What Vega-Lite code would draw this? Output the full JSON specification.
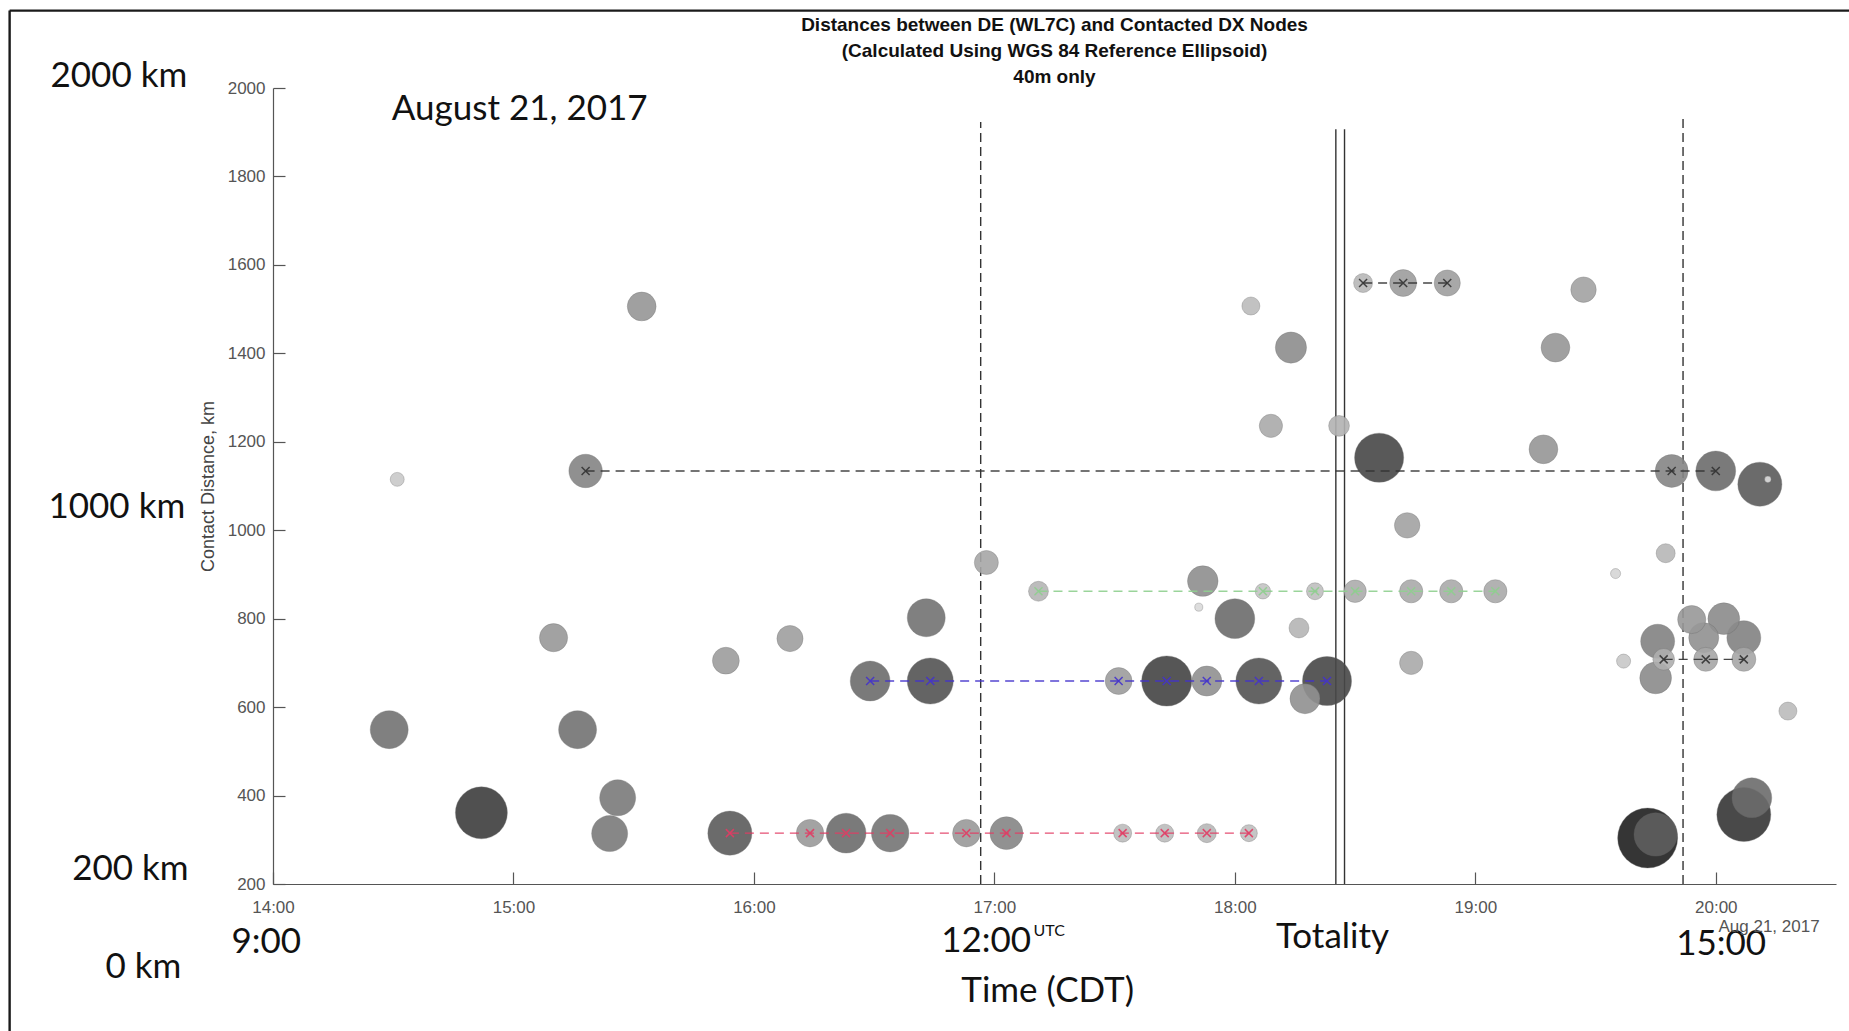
{
  "$schema": "https://vega.github.io/schema/vega-lite/v6.json",
  "autosize": {"type": "none"},
  "padding": {"left": 273, "top": 88, "right": 13, "bottom": 147},
  "width": 1563,
  "height": 796,
  "background": "white",
  "config": {
    "view": {"stroke": null},
    "axis": {
      "grid": false,
      "domainColor": "#555",
      "domainWidth": 1.2,
      "tickColor": "#555",
      "tickWidth": 1.2,
      "labelColor": "#555",
      "labelFont": "Liberation Sans",
      "labelFontSize": 17
    }
  },
  "title": {
    "text": ["Distances between DE (WL7C) and Contacted DX Nodes", "(Calculated Using WGS 84 Reference Ellipsoid)", "40m only"],
    "font": "Liberation Sans",
    "fontSize": 19,
    "fontWeight": "bold",
    "color": "#111",
    "lineHeight": 26,
    "anchor": "middle",
    "frame": "group",
    "offset": 2,
    "dy": 80
  },
  "datasets": {
    "contacts": [
      {"t": "2017-08-21T14:31:00", "km": 1115, "spots": 5.4, "series": null},
      {"t": "2017-08-21T15:18:00", "km": 1134, "spots": 31, "series": "F"},
      {"t": "2017-08-21T15:32:00", "km": 1506, "spots": 23, "series": null},
      {"t": "2017-08-21T14:29:00", "km": 549, "spots": 40, "series": null},
      {"t": "2017-08-21T14:52:00", "km": 361, "spots": 75, "series": null},
      {"t": "2017-08-21T15:10:00", "km": 757, "spots": 22, "series": null},
      {"t": "2017-08-21T15:16:00", "km": 549, "spots": 40, "series": null},
      {"t": "2017-08-21T15:26:00", "km": 395, "spots": 36, "series": null},
      {"t": "2017-08-21T15:24:00", "km": 314, "spots": 36, "series": null},
      {"t": "2017-08-21T15:53:00", "km": 705, "spots": 20, "series": null},
      {"t": "2017-08-21T16:09:00", "km": 755, "spots": 19, "series": null},
      {"t": "2017-08-21T16:43:00", "km": 802, "spots": 40, "series": null},
      {"t": "2017-08-21T16:58:00", "km": 927, "spots": 16, "series": null},
      {"t": "2017-08-21T15:54:00", "km": 315, "spots": 54, "series": "A"},
      {"t": "2017-08-21T16:14:00", "km": 315, "spots": 21, "series": "A"},
      {"t": "2017-08-21T16:23:00", "km": 315, "spots": 44, "series": "A"},
      {"t": "2017-08-21T16:34:00", "km": 315, "spots": 39, "series": "A"},
      {"t": "2017-08-21T16:53:00", "km": 315, "spots": 21, "series": "A"},
      {"t": "2017-08-21T17:03:00", "km": 315, "spots": 30, "series": "A"},
      {"t": "2017-08-21T17:32:00", "km": 315, "spots": 9, "series": "A"},
      {"t": "2017-08-21T17:42:30", "km": 315, "spots": 9, "series": "A"},
      {"t": "2017-08-21T17:53:00", "km": 315, "spots": 10, "series": "A"},
      {"t": "2017-08-21T18:03:30", "km": 315, "spots": 8, "series": "A"},
      {"t": "2017-08-21T16:29:00", "km": 659, "spots": 44, "series": "B"},
      {"t": "2017-08-21T16:44:00", "km": 659, "spots": 59, "series": "B"},
      {"t": "2017-08-21T17:31:00", "km": 659, "spots": 20, "series": "B"},
      {"t": "2017-08-21T17:43:00", "km": 659, "spots": 70, "series": "B"},
      {"t": "2017-08-21T17:53:00", "km": 659, "spots": 25, "series": "B"},
      {"t": "2017-08-21T18:06:00", "km": 659, "spots": 59, "series": "B"},
      {"t": "2017-08-21T18:23:00", "km": 659, "spots": 67, "series": "B"},
      {"t": "2017-08-21T18:17:30", "km": 619, "spots": 25, "series": null},
      {"t": "2017-08-21T17:11:00", "km": 862, "spots": 11, "series": "C"},
      {"t": "2017-08-21T18:07:00", "km": 862, "spots": 6.6, "series": "C"},
      {"t": "2017-08-21T18:20:00", "km": 862, "spots": 8, "series": "C"},
      {"t": "2017-08-21T18:30:00", "km": 862, "spots": 14, "series": "C"},
      {"t": "2017-08-21T18:44:00", "km": 862, "spots": 15, "series": "C"},
      {"t": "2017-08-21T18:54:00", "km": 862, "spots": 15, "series": "C"},
      {"t": "2017-08-21T19:05:00", "km": 862, "spots": 15, "series": "C"},
      {"t": "2017-08-21T17:52:00", "km": 885, "spots": 26, "series": null},
      {"t": "2017-08-21T17:51:00", "km": 826, "spots": 1.8, "series": null},
      {"t": "2017-08-21T18:00:00", "km": 800, "spots": 44, "series": null},
      {"t": "2017-08-21T18:16:00", "km": 779, "spots": 11, "series": null},
      {"t": "2017-08-21T18:04:00", "km": 1507, "spots": 9, "series": null},
      {"t": "2017-08-21T18:14:00", "km": 1413, "spots": 27, "series": null},
      {"t": "2017-08-21T18:09:00", "km": 1236, "spots": 15, "series": null},
      {"t": "2017-08-21T18:26:00", "km": 1236, "spots": 12, "series": null},
      {"t": "2017-08-21T18:36:00", "km": 1164, "spots": 67, "series": null},
      {"t": "2017-08-21T18:43:00", "km": 1011, "spots": 18, "series": null},
      {"t": "2017-08-21T18:44:00", "km": 700, "spots": 15, "series": null},
      {"t": "2017-08-21T18:32:00", "km": 1559, "spots": 10, "series": "D"},
      {"t": "2017-08-21T18:42:00", "km": 1559, "spots": 20, "series": "D"},
      {"t": "2017-08-21T18:53:00", "km": 1559, "spots": 19, "series": "D"},
      {"t": "2017-08-21T19:27:00", "km": 1544, "spots": 18, "series": null},
      {"t": "2017-08-21T19:20:00", "km": 1413, "spots": 23, "series": null},
      {"t": "2017-08-21T19:17:00", "km": 1183, "spots": 23, "series": null},
      {"t": "2017-08-21T19:35:00", "km": 902, "spots": 2.8, "series": null},
      {"t": "2017-08-21T19:47:30", "km": 948, "spots": 10, "series": null},
      {"t": "2017-08-21T19:37:00", "km": 704, "spots": 5.5, "series": null},
      {"t": "2017-08-21T19:49:00", "km": 1134, "spots": 30, "series": "F"},
      {"t": "2017-08-21T20:00:00", "km": 1134, "spots": 44, "series": "F"},
      {"t": "2017-08-21T20:11:00", "km": 1104, "spots": 54, "series": null},
      {"t": "2017-08-21T20:13:00", "km": 1115, "spots": 1.2, "series": null},
      {"t": "2017-08-21T19:54:00", "km": 798, "spots": 22, "series": null},
      {"t": "2017-08-21T20:02:00", "km": 800, "spots": 28, "series": null},
      {"t": "2017-08-21T20:07:00", "km": 757, "spots": 32, "series": null},
      {"t": "2017-08-21T19:57:00", "km": 757, "spots": 25, "series": null},
      {"t": "2017-08-21T19:45:30", "km": 749, "spots": 32, "series": null},
      {"t": "2017-08-21T19:45:00", "km": 666, "spots": 28, "series": null},
      {"t": "2017-08-21T19:47:00", "km": 708, "spots": 13, "series": "E"},
      {"t": "2017-08-21T19:57:30", "km": 708, "spots": 16, "series": "E"},
      {"t": "2017-08-21T20:07:00", "km": 708, "spots": 16, "series": "E"},
      {"t": "2017-08-21T20:18:00", "km": 591, "spots": 9, "series": null},
      {"t": "2017-08-21T19:43:00", "km": 304, "spots": 100, "series": null},
      {"t": "2017-08-21T19:45:00", "km": 312, "spots": 52, "series": null},
      {"t": "2017-08-21T20:07:00", "km": 357, "spots": 81, "series": null},
      {"t": "2017-08-21T20:09:00", "km": 395, "spots": 44, "series": null}
    ],
    "events": [
      {"event": "12:00 CDT", "kind": "clock", "t": "2017-08-21T16:56:35", "km": 200, "top": 1923},
      {"event": "15:00 CDT", "kind": "clock", "t": "2017-08-21T19:51:50", "km": 200, "top": 1937},
      {"event": "Totality start", "kind": "totality", "t": "2017-08-21T18:25:12", "km": 200, "top": 1907},
      {"event": "Totality end", "kind": "totality", "t": "2017-08-21T18:27:22", "km": 200, "top": 1907}
    ],
    "notes": [
      {"label": "2000 km", "kind": "big", "t": "2017-08-21T13:21:32", "km": 2027},
      {"label": "1000 km", "kind": "big", "t": "2017-08-21T13:21:02", "km": 1053},
      {"label": "200 km", "kind": "big", "t": "2017-08-21T13:24:25", "km": 235},
      {"label": "0 km", "kind": "big", "t": "2017-08-21T13:27:40", "km": 12},
      {"label": "9:00", "kind": "big", "t": "2017-08-21T13:58:20", "km": 69},
      {"label": "12:00", "kind": "big", "t": "2017-08-21T16:57:56", "km": 72},
      {"label": "Totality", "kind": "big", "t": "2017-08-21T18:24:22", "km": 81},
      {"label": "Time (CDT)", "kind": "big", "t": "2017-08-21T17:13:18", "km": -41},
      {"label": "15:00", "kind": "big", "t": "2017-08-21T20:01:21", "km": 65},
      {"label": "August 21, 2017", "kind": "big", "t": "2017-08-21T15:01:34", "km": 1953},
      {"label": "UTC", "kind": "sup", "t": "2017-08-21T17:13:40", "km": 93},
      {"label": "Aug 21, 2017", "kind": "axis", "t": "2017-08-21T20:13:18", "km": 103}
    ],
    "frame": [
      {"edge": "left", "t": "2017-08-21T12:54:17", "t2": "2017-08-21T12:54:17", "km": -400, "top": 2175},
      {"edge": "top", "t": "2017-08-21T12:54:17", "t2": "2017-08-21T21:30:00", "km": 2175, "top": 2175}
    ]
  },
  "layer": [
    {
      "data": {"name": "frame"},
      "transform": [{"filter": "datum.edge === 'left'"}],
      "mark": {"type": "rule", "stroke": "#1a1a1a", "strokeWidth": 2.4},
      "encoding": {
        "x": {"field": "t", "type": "temporal"},
        "y": {"field": "km", "type": "quantitative"},
        "y2": {"field": "top"}
      }
    },
    {
      "data": {"name": "frame"},
      "transform": [{"filter": "datum.edge === 'top'"}],
      "mark": {"type": "rule", "stroke": "#1a1a1a", "strokeWidth": 2.2},
      "encoding": {
        "x": {"field": "t", "type": "temporal"},
        "x2": {"field": "t2"},
        "y": {"field": "km", "type": "quantitative"}
      }
    },
    {
      "data": {"name": "events"},
      "transform": [{"filter": "datum.kind === 'clock'"}],
      "mark": {"type": "rule", "stroke": "#333", "strokeWidth": 1.4, "strokeDash": [9, 5]},
      "encoding": {
        "x": {"field": "t", "type": "temporal"},
        "y": {"field": "km", "type": "quantitative"},
        "y2": {"field": "top"}
      }
    },
    {
      "data": {"name": "events"},
      "transform": [{"filter": "datum.kind === 'totality'"}],
      "mark": {"type": "rule", "stroke": "#333", "strokeWidth": 1.4},
      "encoding": {
        "x": {"field": "t", "type": "temporal"},
        "y": {"field": "km", "type": "quantitative"},
        "y2": {"field": "top"}
      }
    },
    {
      "data": {"name": "contacts"},
      "mark": {"type": "circle", "opacity": 0.9, "stroke": "#666", "strokeWidth": 1, "strokeOpacity": 0.35},
      "encoding": {
        "x": {
          "field": "t", "type": "temporal",
          "scale": {"domain": [{"year": 2017, "month": 8, "date": 21, "hours": 14}, {"year": 2017, "month": 8, "date": 21, "hours": 20, "minutes": 30}], "nice": false},
          "axis": {
            "title": null,
            "format": "%H:%M",
            "values": [
              {"year": 2017, "month": 8, "date": 21, "hours": 14},
              {"year": 2017, "month": 8, "date": 21, "hours": 15},
              {"year": 2017, "month": 8, "date": 21, "hours": 16},
              {"year": 2017, "month": 8, "date": 21, "hours": 17},
              {"year": 2017, "month": 8, "date": 21, "hours": 18},
              {"year": 2017, "month": 8, "date": 21, "hours": 19},
              {"year": 2017, "month": 8, "date": 21, "hours": 20}
            ],
            "tickSize": -12,
            "labelPadding": 27,
            "labelBaseline": "top",
            "labelAlign": "center"
          }
        },
        "y": {
          "field": "km", "type": "quantitative",
          "scale": {"domain": [200, 2000], "nice": false, "zero": false},
          "axis": {
            "values": [200, 400, 600, 800, 1000, 1200, 1400, 1600, 1800, 2000],
            "format": "d",
            "tickSize": -12,
            "labelPadding": 20,
            "title": "Contact Distance, km",
            "titleFont": "Liberation Sans",
            "titleFontSize": 18,
            "titleFontWeight": "normal",
            "titleColor": "#444",
            "titleX": -65,
            "titleY": 398,
            "titleAlign": "center",
            "titleBaseline": "middle"
          }
        },
        "size": {"field": "spots", "type": "quantitative", "scale": {"type": "linear", "domain": [0, 100], "range": [0, 3600], "zero": true}, "legend": null},
        "fill": {"field": "spots", "type": "quantitative", "scale": {"type": "pow", "exponent": 0.65, "domain": [0, 100], "range": ["#ebebeb", "#202020"], "clamp": true}, "legend": null},
        "order": {"field": "spots", "sort": "descending"}
      }
    },
    {
      "data": {"name": "contacts"},
      "transform": [{"filter": "datum.series != null"}],
      "mark": {"type": "line", "strokeWidth": 1.4, "strokeDash": [9, 6], "opacity": 0.9},
      "encoding": {
        "x": {"field": "t", "type": "temporal"},
        "y": {"field": "km", "type": "quantitative"},
        "stroke": {"field": "series", "type": "nominal", "scale": {"domain": ["A", "B", "C", "D", "E", "F"], "range": ["#e23c64", "#4433cc", "#8fcf8f", "#333333", "#333333", "#333333"]}, "legend": null}
      }
    },
    {
      "data": {"name": "contacts"},
      "transform": [{"filter": "datum.series != null"}],
      "mark": {"type": "point", "shape": "M-1,-1L1,1M-1,1L1,-1", "size": 64, "filled": false, "strokeWidth": 1.5, "opacity": 0.9},
      "encoding": {
        "x": {"field": "t", "type": "temporal"},
        "y": {"field": "km", "type": "quantitative"},
        "stroke": {"field": "series", "type": "nominal", "legend": null}
      }
    },
    {
      "data": {"name": "notes"},
      "transform": [{"filter": "datum.kind === 'big'"}],
      "mark": {"type": "text", "font": "Lato", "fontSize": 35, "color": "#111", "align": "center", "baseline": "middle"},
      "encoding": {
        "x": {"field": "t", "type": "temporal"},
        "y": {"field": "km", "type": "quantitative"},
        "text": {"field": "label"}
      }
    },
    {
      "data": {"name": "notes"},
      "transform": [{"filter": "datum.kind === 'sup'"}],
      "mark": {"type": "text", "font": "Lato", "fontSize": 16, "color": "#111", "align": "center", "baseline": "middle"},
      "encoding": {
        "x": {"field": "t", "type": "temporal"},
        "y": {"field": "km", "type": "quantitative"},
        "text": {"field": "label"}
      }
    },
    {
      "data": {"name": "notes"},
      "transform": [{"filter": "datum.kind === 'axis'"}],
      "mark": {"type": "text", "font": "Liberation Sans", "fontSize": 17, "color": "#555", "align": "center", "baseline": "middle"},
      "encoding": {
        "x": {"field": "t", "type": "temporal"},
        "y": {"field": "km", "type": "quantitative"},
        "text": {"field": "label"}
      }
    }
  ]
}
